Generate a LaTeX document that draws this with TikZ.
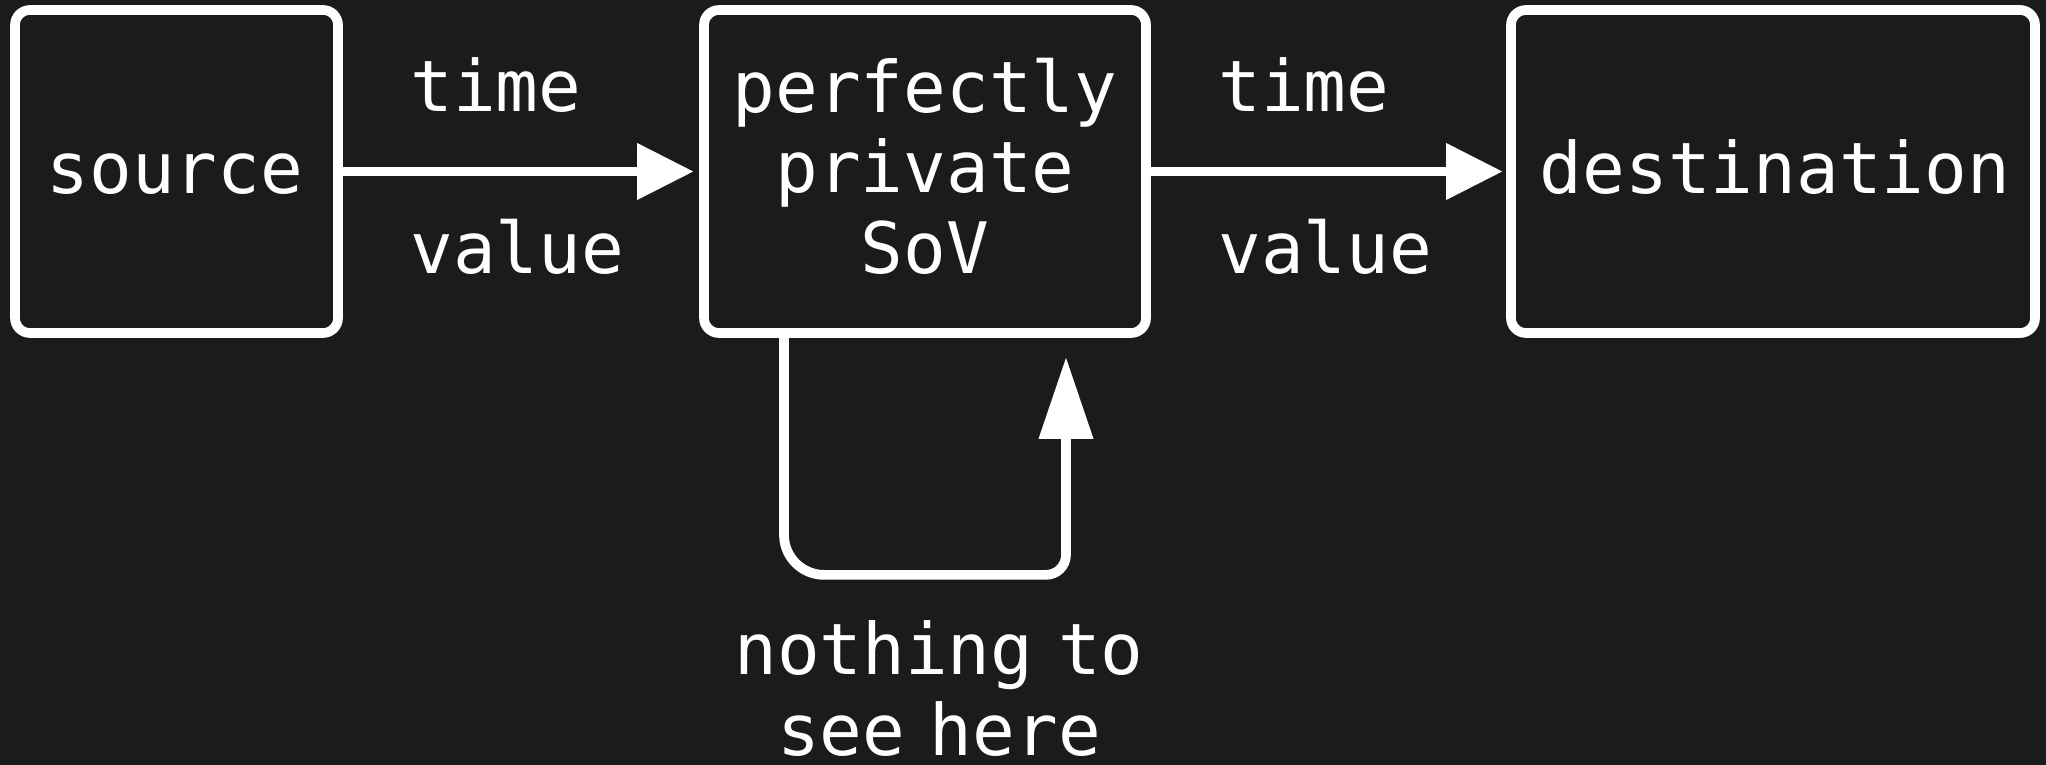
\documentclass[tikz,border=0pt]{standalone}
\usepackage{fontspec}
\newfontfamily\diagfont{DejaVu Sans Mono}
\usetikzlibrary{arrows.meta}
\definecolor{canvas}{HTML}{1B1B1B}
% narrow word gap for the loop caption
\newcommand{\tightgap}{\kern-9pt{} }
\begin{document}
\begin{tikzpicture}[x=0.5pt,y=0.5pt,
  box/.style={draw=white, fill=canvas, line width=4.85pt, rounded corners=7.5pt,
    minimum height=161.5pt, inner sep=0pt},
  lbl/.style={text=white, inner sep=0pt,
    font=\diagfont\fontsize{35.5pt}{40.25pt}\selectfont},
  flow/.style={draw=white, line width=4.85pt,
    -{Triangle[length=28pt,width=28.5pt,line width=0pt]}},
  loopflow/.style={draw=white, line width=4.85pt,
    -{Triangle[length=40.5pt,width=27.5pt,line width=0pt]}},
]
% canvas
\fill[canvas] (0,0) rectangle (2046,-765);
\useasboundingbox (0,0) rectangle (2046,-765);

% boxes
\node[box, minimum width=161.5pt] (src) at (176.5,-171.5) {};
\node[box, minimum width=221pt]   (sov) at (925,-171.5) {};
\node[box, minimum width=262pt]   (dst) at (1773,-171.5) {};

% box texts (multi-line nodes sit on the baseline of their last line)
\node[lbl, anchor=base] (srctext) at (175,-193) {source};
\node[lbl, anchor=base, align=center] (sovtext) at (925,-273) {perfectly\\private\\SoV};
\node[lbl, anchor=base] (dsttext) at (1775,-193) {destination};

% main flow
\draw[flow, shorten >=3pt] (src) -- (sov);
\draw[flow, shorten >=2pt] (sov) -- (dst);

% edge labels
\node[lbl, anchor=base west] (time1)  at (410,-112)  {time};
\node[lbl, anchor=base west] (value1) at (410,-273)  {value};
\node[lbl, anchor=base west] (time2)  at (1218,-112) {time};
\node[lbl, anchor=base west] (value2) at (1218,-273) {value};

% feedback loop under the SoV box
\draw[loopflow] ([xshift=-70.5pt]sov.south) -- ++(0,-197)
  arc[start angle=180, end angle=270, radius=40] -- ++(222,0)
  arc[start angle=270, end angle=360, radius=20]
  -- ([xshift=70.5pt, yshift=-10pt]sov.south);

\node[lbl, anchor=base, align=center] (note) at (939,-755)
  {nothing\tightgap to\\see\tightgap here};
\end{tikzpicture}
\end{document}
